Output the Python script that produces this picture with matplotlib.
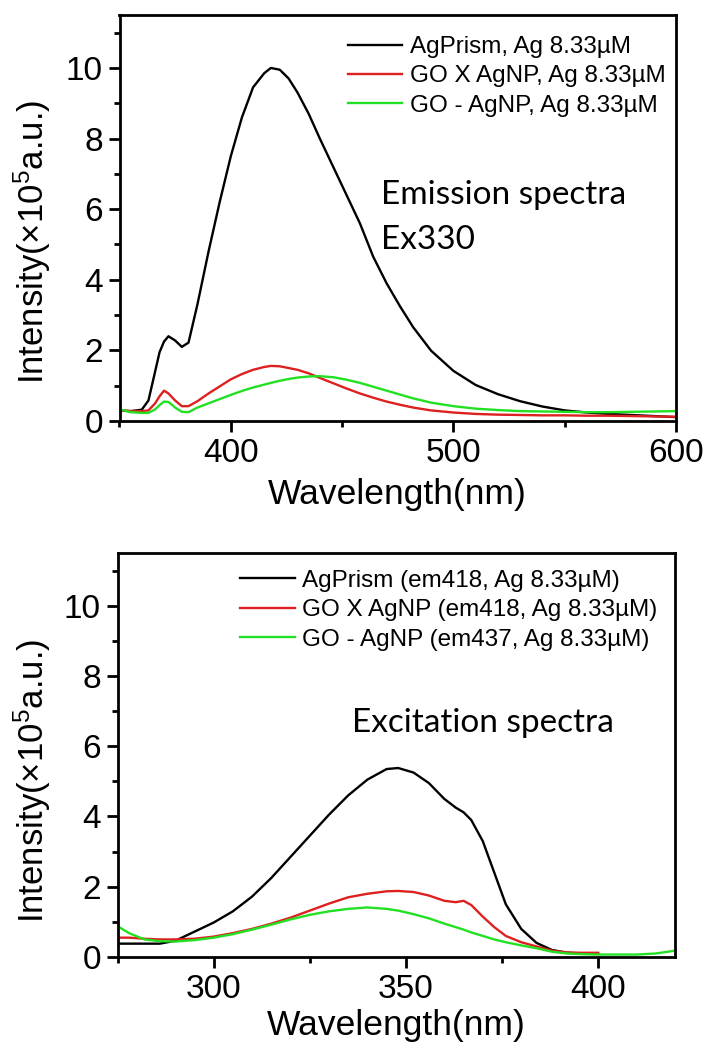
import matplotlib
matplotlib.use("Agg")
import matplotlib.pyplot as plt
from matplotlib.ticker import MultipleLocator

plt.rcParams['font.family'] = ['Liberation Sans', 'DejaVu Sans']
plt.rcParams['mathtext.fontset'] = 'custom'
plt.rcParams['mathtext.rm'] = 'Liberation Sans'
plt.rcParams['mathtext.it'] = 'Liberation Sans:italic'

# ---------------- Emission spectra (Ex330) ----------------
em_wl = [350, 355, 360, 363, 366, 368, 370, 372, 375, 378, 381, 385, 390, 395,
         400, 405, 410, 415, 418, 422, 426, 430, 435, 440, 446, 452, 458, 464,
         470, 476, 482, 490, 500, 510, 520, 530, 540, 550, 560, 570, 580, 590, 600]
em_agprism = [0.30, 0.28, 0.32, 0.58, 1.40, 1.95, 2.25, 2.40, 2.28, 2.10, 2.22, 3.30, 4.80, 6.20,
              7.50, 8.60, 9.45, 9.85, 10.0, 9.95, 9.70, 9.30, 8.70, 8.00, 7.20, 6.40, 5.60, 4.65,
              3.90, 3.25, 2.65, 1.99, 1.42, 1.02, 0.76, 0.56, 0.41, 0.30, 0.24, 0.20, 0.17, 0.14, 0.11]
em_goxagnp = [0.30, 0.28, 0.28, 0.30, 0.50, 0.70, 0.86, 0.78, 0.58, 0.42, 0.42, 0.56, 0.78, 0.98,
              1.18, 1.33, 1.45, 1.53, 1.56, 1.55, 1.50, 1.45, 1.35, 1.22, 1.07, 0.92, 0.78, 0.66,
              0.55, 0.46, 0.38, 0.30, 0.24, 0.20, 0.18, 0.17, 0.16, 0.16, 0.15, 0.15, 0.14, 0.13, 0.12]
em_goagnp = [0.33, 0.25, 0.23, 0.23, 0.33, 0.45, 0.55, 0.54, 0.38, 0.26, 0.25, 0.38, 0.50, 0.62,
             0.74, 0.85, 0.95, 1.03, 1.08, 1.14, 1.19, 1.23, 1.26, 1.27, 1.24, 1.17, 1.08, 0.97,
             0.86, 0.75, 0.64, 0.52, 0.42, 0.35, 0.31, 0.28, 0.27, 0.26, 0.25, 0.25, 0.26, 0.27, 0.28]
em_labels = ['AgPrism, Ag 8.33\u00b5M', 'GO X AgNP, Ag 8.33\u00b5M', 'GO - AgNP, Ag 8.33\u00b5M']

# ---------------- Excitation spectra ----------------
ex_wl = [275, 278, 282, 286, 290, 295, 300, 305, 310, 315, 320, 325, 330, 335, 340, 345,
         348, 352, 356, 360, 363, 365, 367, 370, 373, 376, 380, 384, 388, 392, 396, 400,
         405, 410, 415, 420]
ex_agprism = [0.38, 0.38, 0.38, 0.38, 0.46, 0.72, 0.98, 1.30, 1.72, 2.25, 2.85, 3.45, 4.05, 4.60, 5.05, 5.35,
              5.38, 5.25, 4.95, 4.50, 4.25, 4.12, 3.90, 3.30, 2.40, 1.50, 0.80, 0.40, 0.20, 0.12, 0.10, 0.10]
ex_goxagnp = [0.55, 0.55, 0.52, 0.50, 0.50, 0.52, 0.58, 0.68, 0.80, 0.95, 1.12, 1.32, 1.52, 1.70, 1.80, 1.87,
              1.88, 1.85, 1.75, 1.60, 1.56, 1.60, 1.48, 1.15, 0.85, 0.60, 0.42, 0.30, 0.18, 0.13, 0.12, 0.12]
ex_goagnp = [0.88, 0.68, 0.50, 0.45, 0.44, 0.48, 0.55, 0.65, 0.78, 0.92, 1.07, 1.20, 1.30, 1.37, 1.41, 1.37,
             1.32, 1.22, 1.10, 0.95, 0.85, 0.78, 0.70, 0.60, 0.50, 0.42, 0.33, 0.25, 0.15, 0.10, 0.08, 0.07,
             0.07, 0.07, 0.10, 0.18]
ex_labels = ['AgPrism (em418, Ag 8.33\u00b5M)', 'GO X AgNP (em418, Ag 8.33\u00b5M)',
             'GO - AgNP (em437, Ag 8.33\u00b5M)']

colors = ['#000000', '#dd2020', '#22e022']

W, H = 706, 1048
fig = plt.figure(figsize=(W / 100, H / 100), dpi=100)


def px_axes(l, r, t, b):
    return fig.add_axes([l / W, (H - b) / H, (r - l) / W, (b - t) / H])


def style(ax, xlim, xmaj, xmin, lpad):
    ax.set_xlim(*xlim)
    ax.set_ylim(0, 11.5)
    ax.xaxis.set_major_locator(MultipleLocator(xmaj))
    ax.xaxis.set_minor_locator(MultipleLocator(xmin))
    ax.yaxis.set_major_locator(MultipleLocator(2))
    ax.yaxis.set_minor_locator(MultipleLocator(1))
    for s in ax.spines.values():
        s.set_linewidth(2)
    ax.tick_params(which='both', direction='out', top=False, right=False, width=2, labelsize=24)
    ax.tick_params(which='major', length=8, pad=4)
    ax.tick_params(which='minor', length=4)
    ax.set_xlabel('Wavelength(nm)', fontsize=25.5, labelpad=lpad)
    ax.set_ylabel('Intensity(\u00d710$^{\\mathrm{5}}$a.u.)', fontsize=25)


leg_kw = dict(loc='upper left', frameon=False, fontsize=17.5, handlelength=2.25,
              handletextpad=0.3, labelspacing=0.3, borderpad=0, borderaxespad=0)

# Top panel
ax1 = px_axes(119.5, 676, 15, 421)
for y, c, lab in zip([em_agprism, em_goxagnp, em_goagnp], colors, em_labels):
    ax1.plot(em_wl, y, color=c, lw=1.7, label=lab)
style(ax1, (350, 600), 100, 50, 7)
ax1.yaxis.set_label_coords(-0.119, 0.44)
ax1.legend(bbox_to_anchor=(0.41, 0.948), **leg_kw)
ax1.text(467.5, 6.16, 'Emission spectra', fontsize=24, family='Lato', va='baseline')
ax1.text(467.5, 4.88, 'Ex330', fontsize=24, family='Lato', va='baseline')

# Bottom panel
ax2 = px_axes(117.5, 675, 553, 957)
for y, c, lab in zip([ex_agprism, ex_goxagnp, ex_goagnp], colors, ex_labels):
    ax2.plot(ex_wl[:len(y)], y, color=c, lw=1.7, label=lab)
style(ax2, (275, 420), 50, 25, 3)
ax2.yaxis.set_label_coords(-0.116, 0.436)
ax2.legend(bbox_to_anchor=(0.22, 0.958), **leg_kw)
ax2.text(336.1, 6.4, 'Excitation spectra', fontsize=24, family='Lato', va='baseline')

fig.savefig('out.png', dpi=100)
